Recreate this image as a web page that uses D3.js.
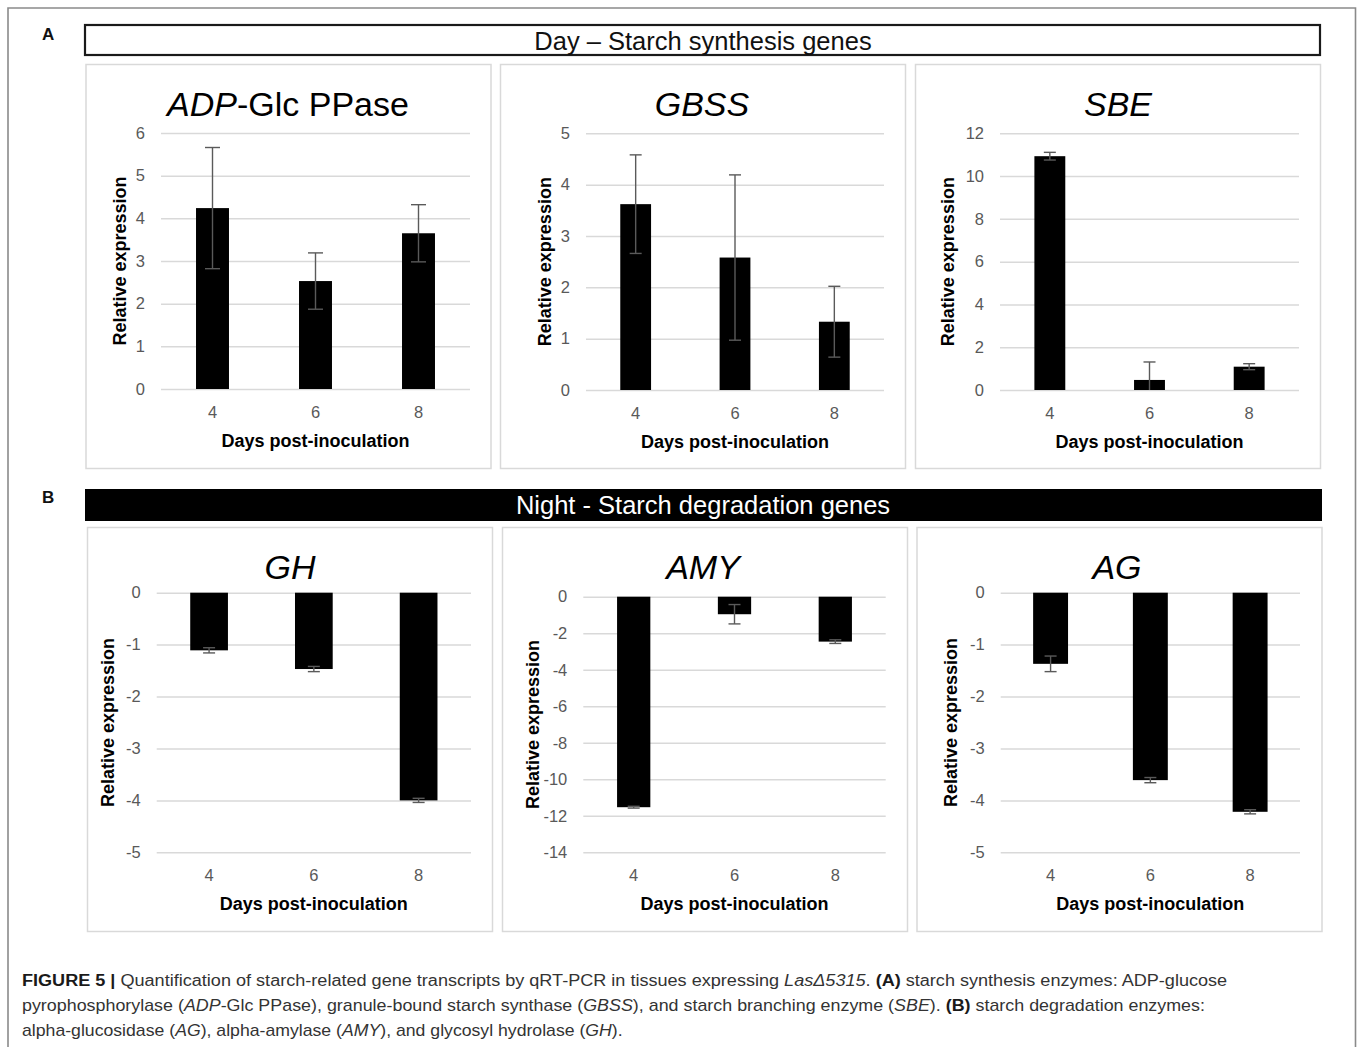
<!DOCTYPE html>
<html>
<head>
<meta charset="utf-8">
<script src="https://cdn.jsdelivr.net/npm/d3@7"></script>
<style>
  html, body { margin: 0; padding: 0; background: #fff; }
  svg text { white-space: pre; }
</style>
</head>
<body>
<svg id="fig" width="1358" height="1047"></svg>
<script>
// ---------------- data ----------------
const days = ["4", "6", "8"];

const titleItalic = ["ADP", "GBSS", "SBE", "GH", "AMY", "AG"];
const titleRest   = ["-Glc PPase", "", "", "", "", ""];

const adpValues  = [4.24, 2.53, 3.65];
const adpErrors  = [1.42, 0.66, 0.67];
const gbssValues = [3.62, 2.58, 1.33];
const gbssErrors = [0.96, 1.61, 0.69];
const sbeValues  = [10.93, 0.47, 1.09];
const sbeErrors  = [0.18, 0.84, 0.14];
const ghValues   = [-1.11, -1.47, -4.00];
const ghErrors   = [0.05, 0.05, 0.04];
const amyValues  = [-11.53, -0.96, -2.46];
const amyErrors  = [0.05, 0.53, 0.10];
const agValues   = [-1.37, -3.61, -4.22];
const agErrors   = [0.15, 0.05, 0.04];

const adpTicks  = [0, 1, 2, 3, 4, 5, 6];
const gbssTicks = [0, 1, 2, 3, 4, 5];
const sbeTicks  = [0, 2, 4, 6, 8, 10, 12];
const ghTicks   = [0, -1, -2, -3, -4, -5];
const amyTicks  = [0, -2, -4, -6, -8, -10, -12, -14];
const agTicks   = [0, -1, -2, -3, -4, -5];

const headerA = "Day \u2013 Starch synthesis genes";
const headerB = "Night - Starch degradation genes";
const xTitle = "Days post-inoculation";
const yTitle = "Relative expression";

// ---------------- layout ----------------
const panels = [
  {vals: adpValues,  errs: adpErrors,  ticks: adpTicks,  frame: [86, 64.5, 405, 404],  plot: [161, 133, 470, 389],     titleX: 288,  titleY: 116, yTitleX: 119.5, barFrac: 0.32, cap: 15},
  {vals: gbssValues, errs: gbssErrors, ticks: gbssTicks, frame: [500.5, 64.5, 405, 404], plot: [586, 133.3, 884, 390],  titleX: 702,  titleY: 116, yTitleX: 544.5, barFrac: 0.31, cap: 12},
  {vals: sbeValues,  errs: sbeErrors,  ticks: sbeTicks,  frame: [915.5, 64.5, 405, 404], plot: [1000, 133.3, 1299, 390], titleX: 1118, titleY: 116, yTitleX: 948,   barFrac: 0.31, cap: 12},
  {vals: ghValues,   errs: ghErrors,   ticks: ghTicks,   frame: [87.5, 527.5, 405, 404], plot: [156.7, 592.7, 471, 852.3],  titleX: 290,  titleY: 579, yTitleX: 108,   barFrac: 0.36, cap: 12},
  {vals: amyValues,  errs: amyErrors,  ticks: amyTicks,  frame: [502.5, 527.5, 405, 404], plot: [583.3, 596.7, 885.7, 852.3], titleX: 703, titleY: 579, yTitleX: 532.5, barFrac: 0.33, cap: 12},
  {vals: agValues,   errs: agErrors,   ticks: agTicks,   frame: [917, 527.5, 405, 404], plot: [1000.7, 592.7, 1300, 852.3], titleX: 1117, titleY: 579, yTitleX: 951,   barFrac: 0.35, cap: 12}
];

const svg = d3.select("#fig");
const FONT = "'Liberation Sans', Arial, Helvetica, sans-serif";
const TICK_COL = "#595959";
const GRID_COL = "#d9d9d9";

svg.append("rect").attr("width", 1358).attr("height", 1047).attr("fill", "#fff");

// outer frame (open at bottom)
svg.append("path")
  .attr("d", "M8,1047 V8 H1355.5 V1047")
  .attr("fill", "none").attr("stroke", "#8a8a8a").attr("stroke-width", 1.6);

// panel letters
svg.append("text").attr("x", 42).attr("y", 40).text("A")
  .attr("font-family", FONT).attr("font-weight", "bold").attr("font-size", 17).attr("fill", "#111");
svg.append("text").attr("x", 42).attr("y", 503).text("B")
  .attr("font-family", FONT).attr("font-weight", "bold").attr("font-size", 17).attr("fill", "#111");

// headers
svg.append("rect").attr("x", 85).attr("y", 25).attr("width", 1235).attr("height", 30)
  .attr("fill", "#fff").attr("stroke", "#1a1a1a").attr("stroke-width", 2.2);
svg.append("text").attr("x", 703).attr("y", 50).attr("text-anchor", "middle")
  .attr("font-family", FONT).attr("font-size", 25.5).attr("fill", "#111").text(headerA);

svg.append("rect").attr("x", 85).attr("y", 489).attr("width", 1237).attr("height", 32)
  .attr("fill", "#000");
svg.append("text").attr("x", 703).attr("y", 514).attr("text-anchor", "middle")
  .attr("font-family", FONT).attr("font-size", 25.5).attr("fill", "#fff").text(headerB);

// ---------------- panels ----------------
panels.forEach((p, i) => {
  const [fx, fy, fw, fh] = p.frame;
  svg.append("rect").attr("x", fx).attr("y", fy).attr("width", fw).attr("height", fh)
    .attr("fill", "#fff").attr("stroke", GRID_COL).attr("stroke-width", 1.5);

  const [x0, y0, x1, y1] = p.plot;
  const tmin = d3.min(p.ticks), tmax = d3.max(p.ticks);
  const y = d3.scaleLinear().domain([tmin, tmax]).range([y1, y0]);
  const pad = 1 - p.barFrac;
  const x = d3.scaleBand().domain(days).range([x0, x1]).paddingInner(pad).paddingOuter(pad / 2);

  const g = svg.append("g");

  // y axis with gridlines
  const yAxis = d3.axisLeft(y).tickValues(p.ticks).tickSize(-(x1 - x0)).tickPadding(16).tickFormat(d3.format("d"));
  const ya = g.append("g").attr("transform", `translate(${x0},0)`).call(yAxis);
  ya.select(".domain").remove();
  ya.selectAll(".tick line").attr("stroke", GRID_COL).attr("stroke-width", 1.5);
  ya.selectAll(".tick text").attr("font-family", FONT).attr("font-size", 16.5).attr("fill", TICK_COL)
    .text(d => d < 0 ? "-" + Math.abs(d) : String(d));

  // x axis labels
  const xAxis = d3.axisBottom(x).tickSize(0).tickPadding(0);
  const xa = g.append("g").attr("transform", `translate(0,${y1})`).call(xAxis);
  xa.select(".domain").remove();
  xa.selectAll(".tick text").attr("font-family", FONT).attr("font-size", 16.5).attr("fill", TICK_COL)
    .attr("dy", null).attr("y", 29);

  // bars
  g.selectAll("rect.bar").data(p.vals).join("rect").attr("class", "bar")
    .attr("x", (d, k) => x(days[k]))
    .attr("width", x.bandwidth())
    .attr("y", d => Math.min(y(d), y(0)))
    .attr("height", d => Math.abs(y(d) - y(0)))
    .attr("fill", "#000");

  // error bars (clipped to axis range, as in Excel)
  const clamp = v => Math.max(tmin, Math.min(tmax, v));
  p.vals.forEach((v, k) => {
    const cx = x(days[k]) + x.bandwidth() / 2;
    const hi = v + p.errs[k], lo = v - p.errs[k];
    const yh = y(clamp(hi)), yl = y(clamp(lo));
    const eg = g.append("g").attr("stroke", "#5a5a5a").attr("stroke-width", 1.4);
    eg.append("line").attr("x1", cx).attr("x2", cx).attr("y1", yh).attr("y2", yl);
    if (hi <= tmax && hi >= tmin)
      eg.append("line").attr("x1", cx - p.cap / 2).attr("x2", cx + p.cap / 2).attr("y1", yh).attr("y2", yh);
    if (lo >= tmin && lo <= tmax)
      eg.append("line").attr("x1", cx - p.cap / 2).attr("x2", cx + p.cap / 2).attr("y1", yl).attr("y2", yl);
  });

  // title
  const t = g.append("text").attr("x", p.titleX).attr("y", p.titleY).attr("text-anchor", "middle")
    .attr("font-family", FONT).attr("font-size", 34).attr("fill", "#000");
  t.append("tspan").attr("font-style", "italic").text(titleItalic[i]);
  if (titleRest[i]) t.append("tspan").text(titleRest[i]);

  // axis titles
  g.append("text").attr("x", (x0 + x1) / 2).attr("y", y1 + 58).attr("text-anchor", "middle")
    .attr("font-family", FONT).attr("font-weight", "bold").attr("font-size", 18).attr("fill", "#000")
    .text(xTitle);
  g.append("text").attr("transform", `translate(${p.yTitleX + 6},${(y0 + y1) / 2}) rotate(-90)`)
    .attr("text-anchor", "middle")
    .attr("font-family", FONT).attr("font-weight", "bold").attr("font-size", 18).attr("fill", "#000")
    .text(yTitle);
});

// ---------------- caption ----------------
const captionLines = [
  [["b", "FIGURE 5 |"], ["n", " Quantification of starch-related gene transcripts by qRT-PCR in tissues expressing "], ["i", "Las\u03945315"], ["n", ". "], ["b", "(A)"], ["n", " starch synthesis enzymes: ADP-glucose"]],
  [["n", "pyrophosphorylase ("], ["i", "ADP"], ["n", "-Glc PPase), granule-bound starch synthase ("], ["i", "GBSS"], ["n", "), and starch branching enzyme ("], ["i", "SBE"], ["n", "). "], ["b", "(B)"], ["n", " starch degradation enzymes:"]],
  [["n", "alpha-glucosidase ("], ["i", "AG"], ["n", "), alpha-amylase ("], ["i", "AMY"], ["n", "), and glycosyl hydrolase ("], ["i", "GH"], ["n", ")."]]
];
const capBase = [986, 1011, 1036];
const capWidth = [1206, 1184, 601];
captionLines.forEach((line, li) => {
  const t = svg.append("text").attr("x", 0).attr("y", 0)
    .attr("font-family", FONT).attr("font-size", 16).attr("fill", "#333");
  line.forEach(([s, str]) => {
    const ts = t.append("tspan").text(str);
    if (s === "b") ts.attr("font-weight", "bold").attr("fill", "#1a1a1a");
    if (s === "i") ts.attr("font-style", "italic");
  });
  const w = t.node().getComputedTextLength();
  const k = capWidth[li] / w;
  t.attr("transform", `translate(22,${capBase[li]}) scale(${k},1)`);
});
</script>
</body>
</html>
